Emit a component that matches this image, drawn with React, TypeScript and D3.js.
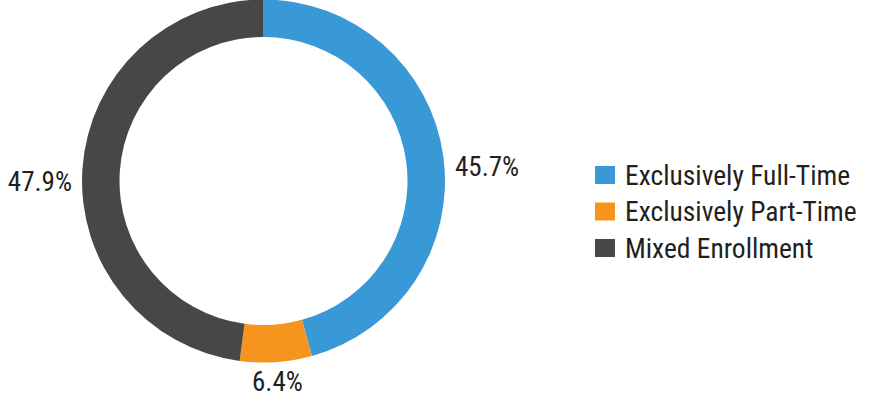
import React from "react";
import * as d3 from "d3";

const categories = ["Exclusively Full-Time", "Exclusively Part-Time", "Mixed Enrollment"];
const values = [45.7, 6.4, 47.9];
const valueLabels = ["45.7%", "6.4%", "47.9%"];
const colors = ["#3899d6", "#f7941e", "#474747"];

const W = 894, H = 404;
const cx = 263.5, cy = 181;
const outerR = 181.5, innerR = 144;
const FONT = "'Liberation Sans Narrow', 'Roboto Condensed', 'Liberation Sans', sans-serif";

export default function App() {
  const pie = d3.pie<number>().sort(null).value((d) => d)(values);
  const arc = d3.arc<d3.PieArcDatum<number>>().innerRadius(innerR).outerRadius(outerR);
  const labelPos = pie.map((p, i) => {
    const mid = (p.startAngle + p.endAngle) / 2;
    const s = Math.sin(mid), c = -Math.cos(mid);
    if (i === 0) return { x: cx + outerR + 10, y: cy - 14, anchor: "start" };
    if (i === 2) return { x: cx - outerR - 10, y: cy + 1, anchor: "end" };
    return { x: cx + (outerR + 20) * s, y: cy + (outerR + 20) * c, anchor: "middle" };
  });
  return (
    <svg width={W} height={H} style={{ position: "absolute", left: 0, top: 0 }}>
      <g transform={`translate(${cx},${cy})`}>
        {pie.map((p, i) => (
          <path key={i} d={arc(p) || ""} fill={colors[i]} />
        ))}
      </g>
      {pie.map((p, i) => (
        <text key={i} x={labelPos[i].x} y={labelPos[i].y} textAnchor={labelPos[i].anchor as any}
          dominantBaseline="central" fontFamily={FONT} fontSize={27} fill="#231f20">
          {valueLabels[i]}
        </text>
      ))}
      <g transform="translate(595,166)">
        {categories.map((c, i) => (
          <g key={c} transform={`translate(0,${i * 36.5})`}>
            <rect x={0} y={0} width={20} height={18} fill={colors[i]} />
            <text x={30} y={9} dominantBaseline="central" fontFamily={FONT} fontSize={27.5} fill="#231f20">{c}</text>
          </g>
        ))}
      </g>
    </svg>
  );
}
